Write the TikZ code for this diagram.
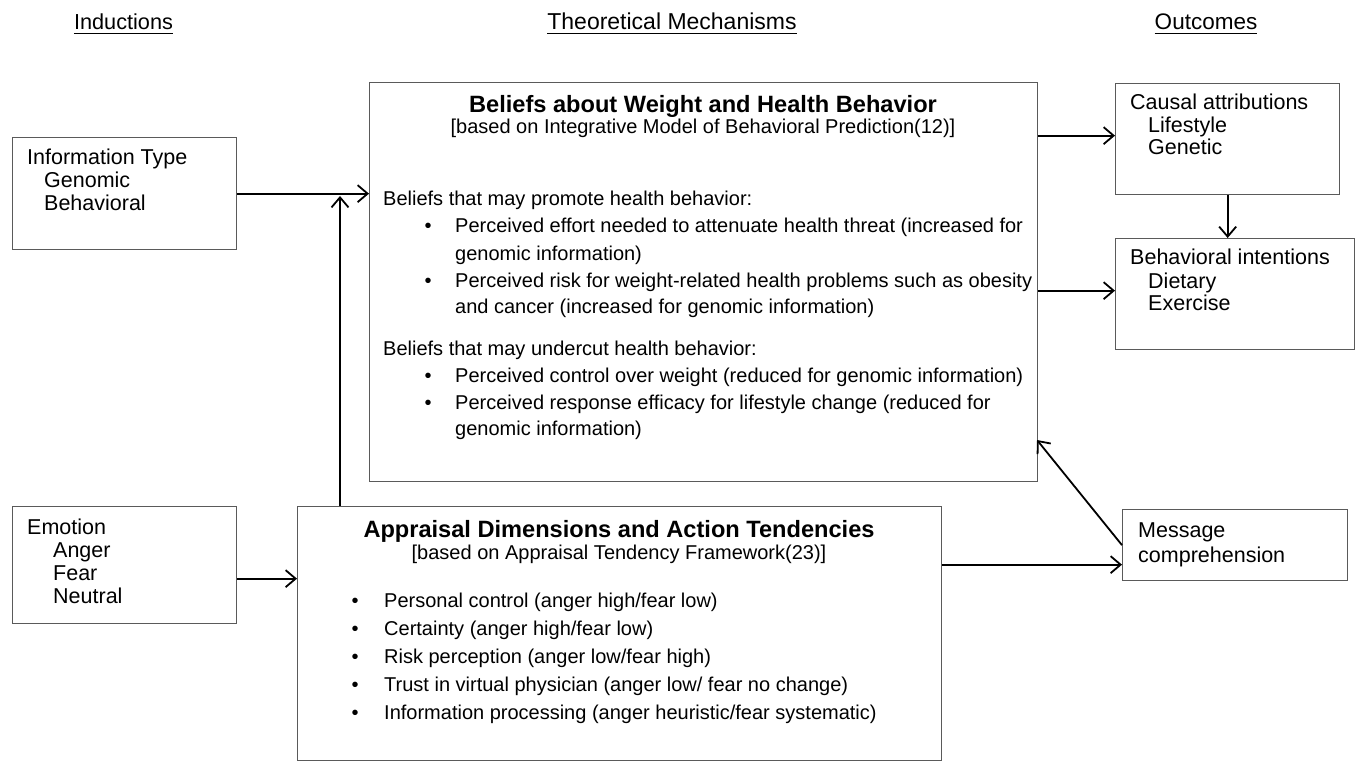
\documentclass[tikz,border=0pt]{standalone}
\usepackage{fontspec}
\setmainfont{Liberation Sans}
\usetikzlibrary{arrows.meta}
\definecolor{boxgray}{HTML}{5A5A5A}
\begin{document}
\begin{tikzpicture}[x=1pt,y=-1pt,
  box/.style={draw=boxgray, line width=1.3pt, inner sep=0pt, anchor=north west},
  arr/.style={line width=1.8pt, -{Straight Barb[length=10pt,width=17pt]}},
  hd/.style={inner sep=0pt, anchor=base, font=\fontsize{23}{28}\selectfont},
  bt/.style={inner sep=0pt, anchor=base west, font=\fontsize{21.5}{25}\selectfont},
  ttl/.style={inner sep=0pt, anchor=base, font=\fontsize{23.6}{28}\selectfont\bfseries},
  sub/.style={inner sep=0pt, anchor=base, font=\fontsize{20}{24}\selectfont},
  body/.style={inner sep=0pt, anchor=base west, font=\fontsize{20}{24}\selectfont},
  dot/.style={inner sep=0pt, anchor=base, font=\fontsize{20}{24}\selectfont},
  uline/.style={line width=1.5pt}
]
\useasboundingbox (0,0) rectangle (1362,762);

% headings
\node[hd, font=\fontsize{21.7}{26}\selectfont] (h1) at (123.5,30) {Inductions};
\node[hd] (h2) at (672,30) {Theoretical Mechanisms};
\node[hd, font=\fontsize{22.5}{26}\selectfont] (h3) at (1206,30) {Outcomes};
\foreach \h in {h1,h2,h3}
  \draw[uline] ([yshift=-3.5pt]\h.base west) -- ([yshift=-3.5pt]\h.base east);

% boxes
\node[box, minimum width=224pt, minimum height=112pt] (info) at (12,137) {};
\node[box, minimum width=224pt, minimum height=117pt] (emo) at (12,506) {};
\node[box, minimum width=668pt, minimum height=399pt] (bel) at (369,82) {};
\node[box, minimum width=644pt, minimum height=254pt] (apr) at (297,506) {};
\node[box, minimum width=224pt, minimum height=111pt] (causal) at (1115,83) {};
\node[box, minimum width=239pt, minimum height=111pt] (behav) at (1115,238) {};
\node[box, minimum width=225pt, minimum height=71pt] (msg) at (1122,509) {};

% induction texts
\node[bt] (infoT) at (27,165) {Information Type};
\node[bt] (infoA) at (44,188) {Genomic};
\node[bt] (infoB) at (44,211) {Behavioral};
\node[bt] (emoT) at (27,534) {Emotion};
\node[bt] (emoA) at (53,557) {Anger};
\node[bt] (emoB) at (53,580) {Fear};
\node[bt] (emoC) at (53,603) {Neutral};

% outcome texts
\node[bt] (caT) at (1130,110) {Causal attributions};
\node[bt] (caA) at (1148,133) {Lifestyle};
\node[bt] (caB) at (1148,155) {Genetic};
\node[bt] (biT) at (1130,264) {Behavioral intentions};
\node[bt] (biA) at (1148,288) {Dietary};
\node[bt] (biB) at (1148,310) {Exercise};
\node[bt] (msA) at (1138,537) {Message};
\node[bt] (msB) at (1138,562) {comprehension};

% beliefs box text
\node[ttl] (belT) at (703,113) {Beliefs about Weight and Health Behavior};
\node[sub] (belS) at (703,134) {[based on Integrative Model of Behavioral Prediction(12)]};
\node[body] (belP) at (383,205) {Beliefs that may promote health behavior:};
\node[dot] (d1) at (428,233) {\textbullet};
\node[body] (b1a) at (455,233) {Perceived effort needed to attenuate health threat (increased for};
\node[body] (b1b) at (455,260) {genomic information)};
\node[dot] (d2) at (428,287) {\textbullet};
\node[body] (b2a) at (455,287) {Perceived risk for weight-related health problems such as obesity};
\node[body] (b2b) at (455,313) {and cancer (increased for genomic information)};
\node[body] (belU) at (383,355) {Beliefs that may undercut health behavior:};
\node[dot] (d3) at (428,382) {\textbullet};
\node[body] (b3a) at (455,382) {Perceived control over weight (reduced for genomic information)};
\node[dot] (d4) at (428,409) {\textbullet};
\node[body] (b4a) at (455,409) {Perceived response efficacy for lifestyle change (reduced for};
\node[body] (b4b) at (455,435) {genomic information)};

% appraisal box text
\node[ttl] (aprT) at (619,537) {Appraisal Dimensions and Action Tendencies};
\node[sub] (aprS) at (619,559) {[based on Appraisal Tendency Framework(23)]};
\node[dot] (e1) at (355,607) {\textbullet};
\node[body] (a1) at (384,607) {Personal control (anger high/fear low)};
\node[dot] (e2) at (355,635) {\textbullet};
\node[body] (a2) at (384,635) {Certainty (anger high/fear low)};
\node[dot] (e3) at (355,663) {\textbullet};
\node[body] (a3) at (384,663) {Risk perception (anger low/fear high)};
\node[dot] (e4) at (355,691) {\textbullet};
\node[body] (a4) at (384,691) {Trust in virtual physician (anger low/ fear no change)};
\node[dot] (e5) at (355,719) {\textbullet};
\node[body] (a5) at (384,719) {Information processing (anger heuristic/fear systematic)};

% connectors
\coordinate (jn) at (340,196);
\coordinate (ca) at ([yshift=3.5pt]causal.west);
\coordinate (ba) at ([yshift=3.5pt]behav.west);
\coordinate (ea) at ([yshift=-13.5pt]emo.east);
\coordinate (ma) at ([yshift=-19.5pt]msg.west);
\coordinate (bt) at (1037,440);

\draw[arr] (info.east) -- (info.east -| bel.west);
\draw[arr] (jn |- apr.north) -- (jn);
\draw[arr] (ca -| bel.east) -- (ca);
\draw[arr] (ba -| bel.east) -- (ba);
\draw[arr] (causal.south) -- (causal.south |- behav.north);
\draw[arr] (ea) -- (ea -| apr.west);
\draw[arr] (ma -| apr.east) -- (ma);
\draw[arr] (msg.west) -- (bt);
\end{tikzpicture}
\end{document}
